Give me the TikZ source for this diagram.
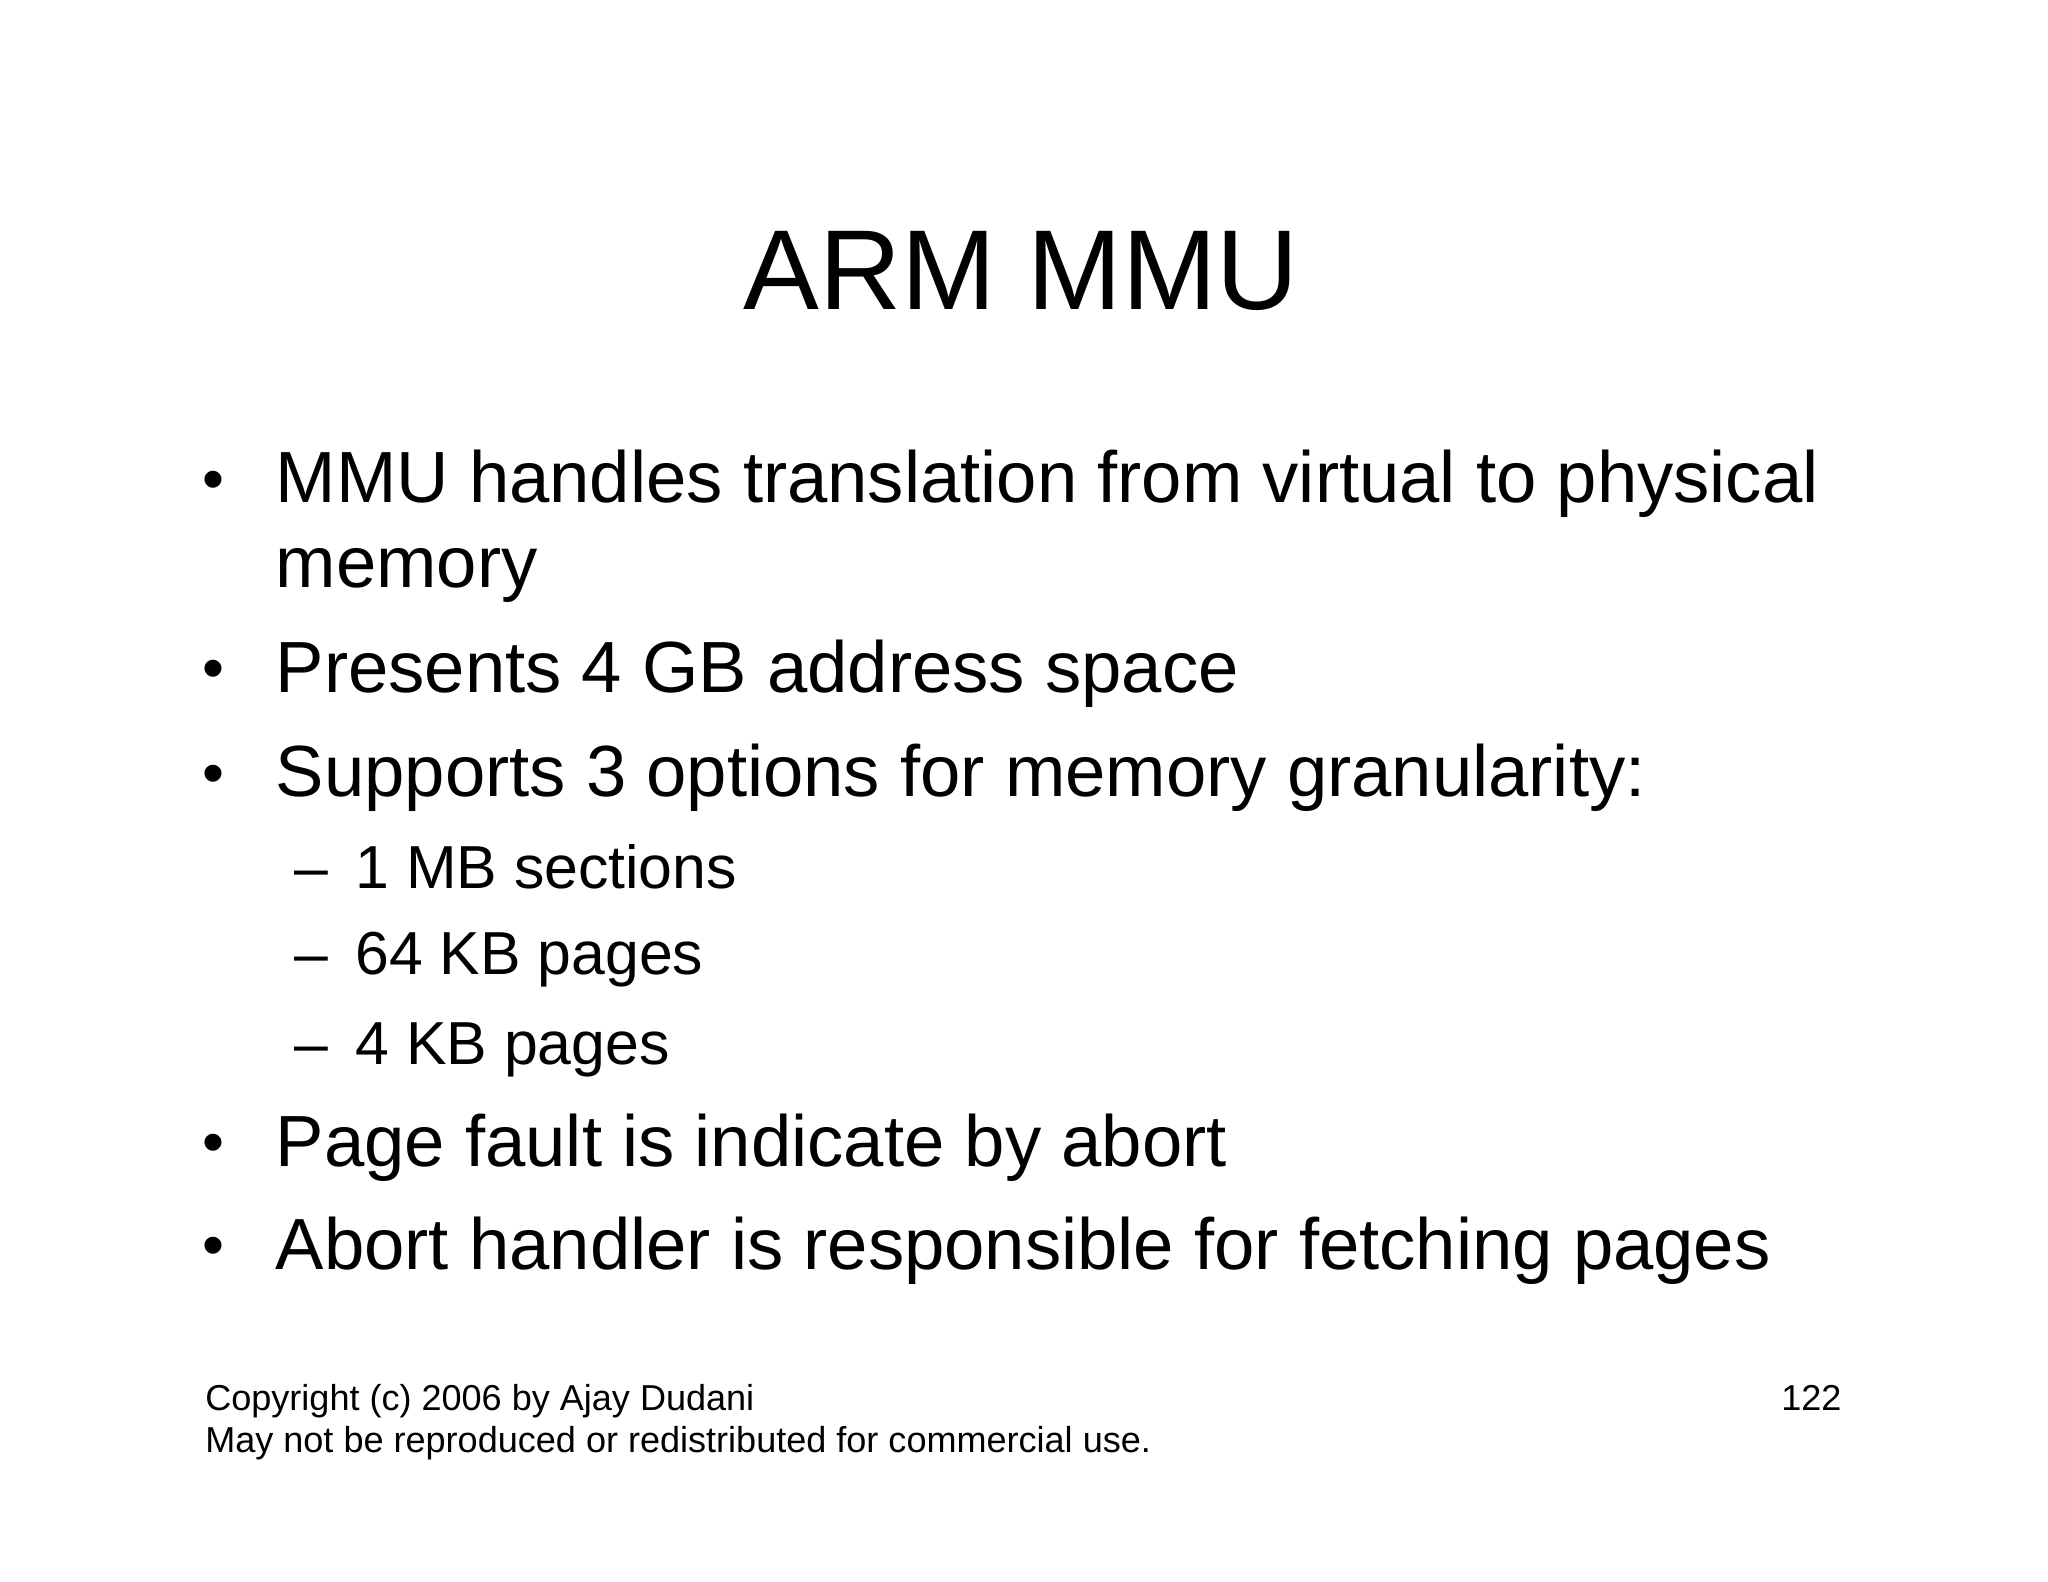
\documentclass[tikz,border=0pt]{standalone}
\usepackage{fontspec}
\setmainfont{Liberation Sans}
\begin{document}
\begin{tikzpicture}[x=1pt,y=-1pt,
  tx/.style={anchor=base west,inner sep=0pt,font=\fontsize{55.5}{55.5}\selectfont},
  dx/.style={anchor=base west,inner sep=0pt,font=\fontsize{48}{48}\selectfont},
  sx/.style={anchor=base west,inner sep=0pt,font=\fontsize{46.5}{46.5}\selectfont},
  fx/.style={anchor=base west,inner sep=0pt,font=\fontsize{27.6}{27.6}\selectfont}]
\useasboundingbox (0,0) rectangle (1568,1211);
\node[anchor=base,inner sep=0pt,font=\fontsize{87}{87}\selectfont] (title) at (782,237) {ARM MMU};
\foreach \y/\n in {383/a,528/b,608/c,891/d,970/e}{\node[dx] (d\n) at (155,\y) {•};}
\node[tx] (b1) at (211,385) {MMU handles translation from virtual to physical};
\node[tx] (b1b) at (211,450) {memory};
\node[tx] (b2) at (211,530) {Presents 4 GB address space};
\node[tx] (b3) at (211,610) {Supports 3 options for memory granularity:};
\foreach \y/\n in {680/a,746/b,815/c}{\node[sx] (m\n) at (225,\y) {–};}
\node[sx] (s1) at (272,680) {1 MB sections};
\node[sx] (s2) at (272,746) {64 KB pages};
\node[sx] (s3) at (272,815) {4 KB pages};
\node[tx] (b4) at (211,893) {Page fault is indicate by abort};
\node[tx] (b5) at (211,972) {Abort handler is responsible for fetching pages};
\node[fx] (f1) at (157,1080) {Copyright (c) 2006 by Ajay Dudani};
\node[fx] (f2) at (157,1112) {May not be reproduced or redistributed for commercial use.};
\node[fx,anchor=base east] (pg) at (1410,1080) {122};
\end{tikzpicture}
\end{document}
